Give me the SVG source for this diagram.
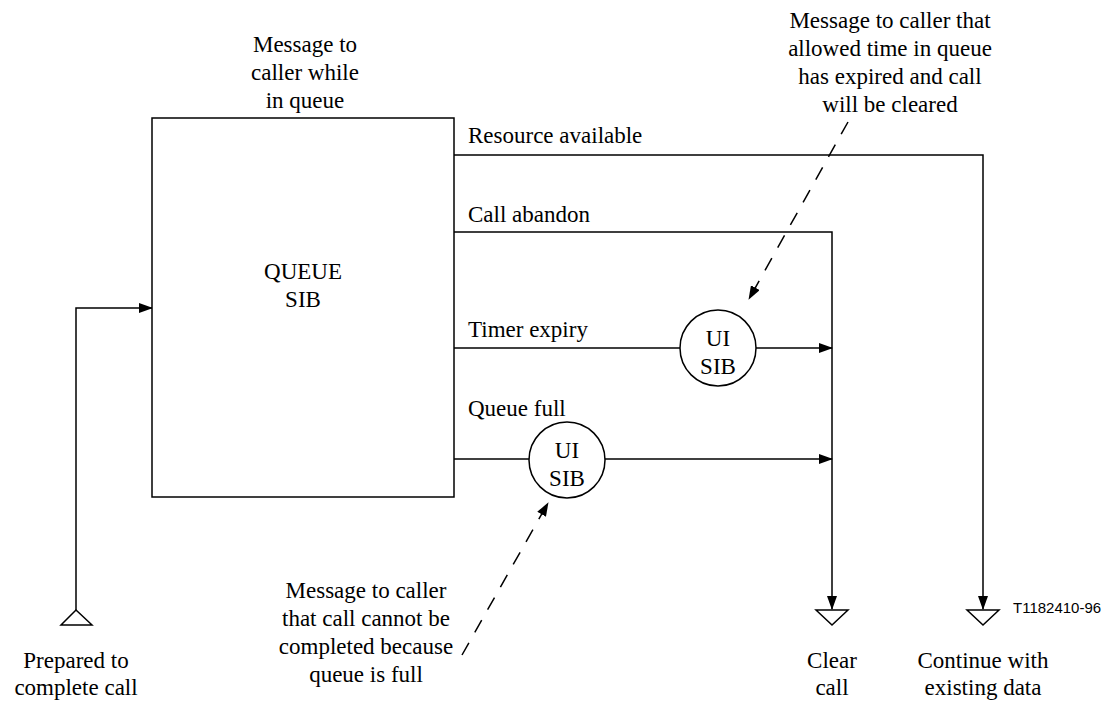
<svg xmlns="http://www.w3.org/2000/svg" width="1110" height="704" viewBox="0 0 1110 704">
<style>
text{font-family:'Liberation Serif','Times New Roman',Times,serif;font-size:23px;fill:#000}
.c{text-anchor:middle}
.s{font-family:'Liberation Sans',Arial,Helvetica,sans-serif;font-size:15px}
.ln{fill:none;stroke:#000;stroke-width:1.5}
.dash{fill:none;stroke:#000;stroke-width:1.5;stroke-dasharray:14 12}
.sh{fill:#fff;stroke:#000;stroke-width:1.5}
</style>
<defs>
<marker id="ah" markerWidth="14" markerHeight="10" refX="13" refY="5" orient="auto" markerUnits="userSpaceOnUse">
<path d="M0,0 L14,5 L0,10 Z" fill="#000"/>
</marker>
</defs>
<rect width="1110" height="704" fill="#fff"/>

<g id="connectors">
<polyline class="ln" points="76,610 76,308 152,308" marker-end="url(#ah)"/>
<polyline class="ln" points="454,155 983,155 983,609" marker-end="url(#ah)"/>
<polyline class="ln" points="454,232 832,232 832,609" marker-end="url(#ah)"/>
<line class="ln" x1="454" y1="348" x2="680" y2="348"/>
<line class="ln" x1="756" y1="348" x2="832" y2="348" marker-end="url(#ah)"/>
<line class="ln" x1="454" y1="459" x2="529" y2="459"/>
<line class="ln" x1="605" y1="459" x2="832" y2="459" marker-end="url(#ah)"/>
<line class="dash" x1="848" y1="122" x2="749" y2="299" marker-end="url(#ah)"/>
<line class="dash" x1="462" y1="655" x2="548" y2="503" marker-end="url(#ah)"/>
<text x="468" y="143" font-family="Liberation Serif">Resource available</text>
<text x="468" y="222" font-family="Liberation Serif">Call abandon</text>
<text x="468" y="337" font-family="Liberation Serif">Timer expiry</text>
<text x="468" y="416" font-family="Liberation Serif">Queue full</text>
</g>

<g id="queue-sib">
<rect class="sh" x="152" y="118" width="302" height="379"/>
<text class="c" x="303" y="279">QUEUE</text>
<text class="c" x="303" y="307">SIB</text>
</g>

<g id="ui-sib-timer">
<circle class="sh" cx="718" cy="348" r="38"/>
<text class="c" x="718" y="346">UI</text>
<text class="c" x="718" y="374">SIB</text>
</g>

<g id="ui-sib-full">
<circle class="sh" cx="567" cy="460" r="38"/>
<text class="c" x="567" y="458">UI</text>
<text class="c" x="567" y="486">SIB</text>
</g>

<g id="start">
<polygon class="sh" points="61,625 92,625 76,610"/>
<text class="c" x="76" y="668">Prepared to</text>
<text class="c" x="76" y="695">complete call</text>
</g>

<g id="clear-call">
<polygon class="sh" points="816,610 848,610 832,625"/>
<text class="c" x="832" y="668">Clear</text>
<text class="c" x="832" y="695">call</text>
</g>

<g id="continue">
<polygon class="sh" points="967,610 999,610 983,625"/>
<text class="c" x="983" y="668">Continue with</text>
<text class="c" x="983" y="695">existing data</text>
</g>

<g id="note-queue">
<text class="c" x="305" y="52">Message to</text>
<text class="c" x="305" y="80">caller while</text>
<text class="c" x="305" y="108">in queue</text>
</g>

<g id="note-expired">
<text class="c" x="890" y="28">Message to caller that</text>
<text class="c" x="890" y="56">allowed time in queue</text>
<text class="c" x="890" y="84">has expired and call</text>
<text class="c" x="890" y="112">will be cleared</text>
</g>

<g id="note-full">
<text class="c" x="366" y="598">Message to caller</text>
<text class="c" x="366" y="626">that call cannot be</text>
<text class="c" x="366" y="654">completed because</text>
<text class="c" x="366" y="682">queue is full</text>
</g>

<text class="s" x="1013" y="613">T1182410-96</text>
</svg>
